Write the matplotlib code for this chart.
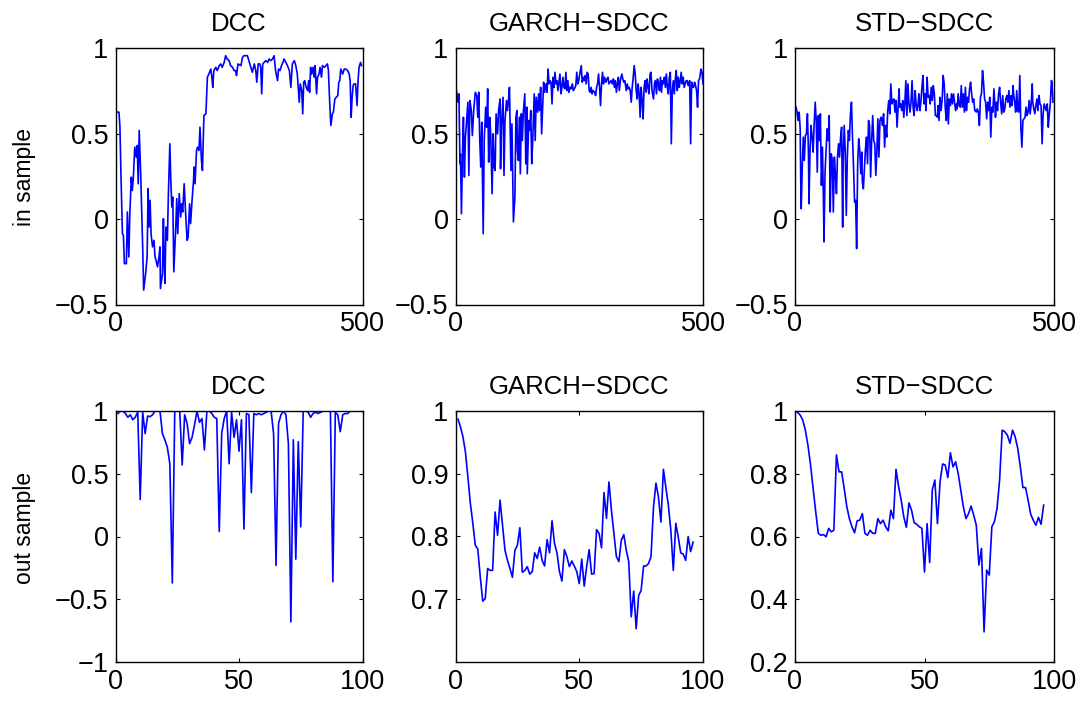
import matplotlib

matplotlib.use("Agg")
import matplotlib.pyplot as plt

plt.rcParams["font.family"] = ["Liberation Sans", "DejaVu Sans"]

# ---- in sample (500 obs) ----
dcc_in_x = [2, 7, 9, 11, 14, 16, 18, 22, 24, 27, 29, 32, 34, 36, 39, 42, 44, 46, 48, 51,
            53, 55, 57, 61, 64, 66, 68, 70, 72, 75, 78, 80, 82, 85, 88, 90, 91, 95, 97, 98,
            100, 102, 105, 107, 110, 112, 114, 116, 118, 122, 124, 126, 129, 132, 134, 136, 139, 142, 145, 147,
            150, 152, 155, 158, 159, 161, 164, 166, 169, 171, 174, 176, 179, 183, 186, 189, 193, 195, 197, 199,
            203, 206, 210, 213, 216, 220, 223, 226, 230, 233, 237, 240, 243, 245, 248, 254, 257, 260, 264, 267,
            270, 274, 277, 281, 284, 286, 289, 292, 294, 296, 298, 301, 304, 308, 311, 314, 318, 321, 324, 328,
            330, 333, 336, 339, 341, 345, 348, 352, 355, 358, 362, 365, 368, 372, 374, 377, 379, 381, 383, 386,
            389, 391, 393, 395, 397, 400, 402, 404, 407, 409, 412, 414, 417, 419, 423, 426, 429, 431, 434, 436,
            439, 441, 444, 447, 450, 452, 454, 456, 460, 463, 466, 470, 473, 475, 477, 479, 481, 483, 486, 489,
            491, 493, 496, 498]
dcc_in_y = [0.625, 0.625, 0.537, 0.265, -0.086, -0.095, -0.261, -0.261, 0.041, -0.222, 0.031, 0.245, 0.167, 0.235, 0.42, 0.362, 0.43, 0.206, 0.518, 0.265,
            0.051, -0.163, -0.416, -0.319, -0.222, 0.177, -0.047, 0.109, -0.086, -0.163, -0.125, -0.222, -0.241, -0.28, -0.222, -0.163, -0.407, -0.319, 0.002, -0.202,
            -0.377, -0.047, -0.125, 0.138, 0.44, 0.226, 0.07, 0.128, -0.309, -0.047, 0.119, -0.086, 0.148, 0.012, 0.089, 0.041, 0.206, 0.031, -0.125, -0.105,
            0.089, -0.027, 0.109, 0.226, 0.304, 0.206, 0.40, 0.42, 0.40, 0.537, 0.342, 0.284, 0.605, 0.615, 0.829, 0.848, 0.877, 0.829, 0.77, 0.868,
            0.887, 0.868, 0.897, 0.907, 0.887, 0.916, 0.955, 0.936, 0.926, 0.897, 0.887, 0.868, 0.868, 0.839, 0.907, 0.897, 0.945, 0.955, 0.955, 0.955,
            0.926, 0.887, 0.858, 0.907, 0.868, 0.80, 0.907, 0.907, 0.887, 0.732, 0.907, 0.916, 0.926, 0.916, 0.936, 0.926, 0.936, 0.955, 0.868, 0.809,
            0.877, 0.868, 0.897, 0.916, 0.936, 0.916, 0.897, 0.868, 0.77, 0.907, 0.926, 0.897, 0.848, 0.683, 0.79, 0.751, 0.615, 0.80, 0.809, 0.77,
            0.751, 0.809, 0.741, 0.887, 0.848, 0.887, 0.829, 0.897, 0.732, 0.829, 0.848, 0.887, 0.829, 0.897, 0.887, 0.897, 0.907, 0.868, 0.654, 0.547,
            0.615, 0.625, 0.702, 0.712, 0.722, 0.80, 0.809, 0.877, 0.848, 0.877, 0.877, 0.868, 0.848, 0.809, 0.595, 0.712, 0.78, 0.79, 0.79, 0.663,
            0.809, 0.887, 0.916, 0.897]

garch_in_x = [2, 5, 7, 9, 10, 12, 14, 16, 18, 20, 22, 25, 27, 29, 32, 34, 37, 40, 43, 45,
              47, 49, 51, 53, 56, 58, 61, 63, 65, 67, 69, 71, 74, 76, 78, 80, 82, 85, 87, 90,
              91, 93, 96, 98, 100, 103, 105, 107, 109, 112, 114, 117, 120, 122, 124, 125, 127, 129, 131, 133,
              135, 137, 140, 142, 144, 145, 148, 150, 152, 154, 156, 159, 161, 163, 166, 168, 170, 172, 174, 176,
              178, 180, 183, 185, 187, 189, 191, 193, 195, 197, 199, 201, 203, 205, 207, 209, 211, 213, 215, 217,
              219, 221, 223, 225, 227, 229, 231, 233, 236, 238, 240, 243, 245, 247, 249, 251, 254, 256, 258, 260,
              262, 264, 266, 268, 270, 272, 274, 276, 278, 281, 283, 285, 287, 289, 291, 293, 295, 297, 299, 301,
              304, 306, 308, 310, 312, 314, 317, 319, 321, 323, 325, 327, 329, 331, 333, 336, 338, 340, 342, 345,
              347, 349, 351, 353, 355, 357, 359, 361, 363, 365, 367, 369, 371, 373, 375, 377, 379, 381, 383, 385,
              387, 389, 391, 393, 395, 397, 400, 402, 404, 406, 408, 410, 412, 414, 416, 418, 420, 422, 424, 426,
              428, 430, 432, 434, 436, 438, 440, 442, 444, 446, 448, 450, 452, 454, 456, 458, 460, 462, 464, 466,
              468, 470, 473, 475, 477, 479, 481, 483, 485, 487, 489, 491, 493, 496, 498, 500]
garch_in_y = [0.751, 0.683, 0.732, 0.323, 0.381, 0.031, 0.362, 0.595, 0.245, 0.479, 0.556, 0.683, 0.255, 0.693, 0.634, 0.488, 0.644, 0.741, 0.722, 0.595,
              0.741, 0.459, 0.304, 0.566, -0.086, 0.459, 0.654, 0.537, 0.761, 0.333, 0.595, 0.508, 0.148, 0.498, 0.304, 0.284, 0.615, 0.498, 0.634, 0.702,
              0.294, 0.556, 0.712, 0.255, 0.576, 0.693, 0.634, 0.693, 0.77, 0.284, 0.556, -0.017, 0.128, 0.595, 0.634, 0.401, 0.342, 0.595, 0.265, 0.615,
              0.459, 0.625, 0.732, 0.323, 0.654, 0.265, 0.576, 0.518, 0.634, 0.323, 0.459, 0.732, 0.459, 0.712, 0.625, 0.732, 0.634, 0.77, 0.498, 0.654,
              0.80, 0.741, 0.79, 0.741, 0.877, 0.79, 0.809, 0.80, 0.673, 0.829, 0.77, 0.858, 0.79, 0.809, 0.751, 0.80, 0.848, 0.732, 0.77, 0.829,
              0.77, 0.761, 0.858, 0.751, 0.809, 0.741, 0.77, 0.761, 0.79, 0.751, 0.761, 0.78, 0.858, 0.79, 0.809, 0.848, 0.897, 0.80, 0.829, 0.809,
              0.839, 0.79, 0.858, 0.848, 0.751, 0.741, 0.77, 0.732, 0.751, 0.741, 0.722, 0.77, 0.79, 0.848, 0.77, 0.663, 0.79, 0.858, 0.79, 0.829,
              0.80, 0.819, 0.829, 0.79, 0.80, 0.809, 0.79, 0.819, 0.77, 0.809, 0.741, 0.79, 0.829, 0.751, 0.809, 0.848, 0.819, 0.80, 0.809, 0.751,
              0.79, 0.761, 0.77, 0.751, 0.683, 0.77, 0.829, 0.897, 0.848, 0.751, 0.702, 0.79, 0.732, 0.595, 0.77, 0.693, 0.585, 0.77, 0.809, 0.741,
              0.819, 0.77, 0.732, 0.848, 0.858, 0.751, 0.702, 0.79, 0.809, 0.732, 0.819, 0.79, 0.751, 0.829, 0.741, 0.809, 0.79, 0.829, 0.77, 0.848,
              0.77, 0.732, 0.829, 0.858, 0.44, 0.751, 0.809, 0.732, 0.819, 0.868, 0.751, 0.829, 0.77, 0.809, 0.858, 0.79, 0.829, 0.77, 0.79, 0.809,
              0.809, 0.78, 0.809, 0.44, 0.80, 0.77, 0.77, 0.80, 0.78, 0.751, 0.654, 0.809, 0.819, 0.877, 0.858, 0.79]

std_in_x = [2, 4, 6, 8, 10, 11, 12, 14, 16, 18, 20, 22, 24, 26, 27, 29, 31, 33, 35, 37,
            39, 41, 43, 45, 47, 49, 51, 53, 55, 56, 58, 60, 62, 64, 66, 68, 70, 72, 74, 76,
            78, 80, 82, 84, 86, 88, 90, 92, 93, 95, 97, 99, 101, 103, 105, 107, 109, 111, 113, 115,
            117, 119, 121, 123, 125, 127, 129, 130, 132, 134, 136, 138, 140, 142, 144, 146, 148, 150, 152, 154,
            156, 158, 160, 162, 164, 166, 167, 169, 171, 173, 175, 177, 179, 181, 183, 185, 187, 189, 191, 193,
            195, 197, 199, 201, 202, 204, 206, 208, 210, 212, 214, 216, 218, 220, 222, 224, 226, 228, 230, 232,
            234, 236, 238, 239, 241, 243, 245, 247, 249, 251, 253, 255, 257, 259, 261, 263, 265, 267, 269, 271,
            273, 275, 276, 278, 280, 282, 284, 286, 288, 290, 292, 294, 296, 298, 300, 302, 304, 306, 308, 310,
            312, 313, 315, 317, 319, 321, 323, 325, 327, 329, 331, 333, 335, 337, 339, 341, 343, 345, 347, 349,
            350, 352, 354, 356, 358, 360, 362, 364, 366, 368, 370, 372, 374, 376, 378, 380, 382, 384, 386, 387,
            389, 391, 393, 395, 397, 399, 401, 403, 405, 407, 409, 411, 413, 415, 417, 419, 421, 422, 424, 426,
            428, 430, 432, 434, 436, 438, 440, 442, 444, 446, 448, 450, 452, 454, 456, 458, 459, 461, 463, 465,
            467, 469, 471, 473, 475, 477, 479, 481, 483, 485, 487, 489, 491, 493, 495, 496, 498]
std_in_y = [0.654, 0.625, 0.576, 0.625, 0.527, 0.245, 0.06, 0.304, 0.479, 0.342, 0.488, 0.498, 0.615, 0.381, 0.089, 0.401, 0.547, 0.479, 0.391, 0.556,
            0.683, 0.576, 0.274, 0.605, 0.459, 0.615, 0.197, 0.42, 0.089, -0.134, 0.274, 0.401, 0.527, 0.459, 0.605, 0.041, 0.381, 0.342, 0.041, 0.362,
            0.265, 0.148, 0.362, 0.44, 0.362, 0.479, 0.537, -0.047, 0.342, 0.547, 0.401, 0.021, 0.362, 0.518, 0.459, 0.615, 0.683, 0.479, 0.304, 0.099,
            0.109, -0.173, 0.323, 0.469, 0.401, 0.265, 0.391, 0.216, 0.177, 0.294, 0.41, 0.479, 0.323, 0.576, 0.547, 0.245, 0.459, 0.605, 0.459, 0.44,
            0.255, 0.391, 0.586, 0.362, 0.576, 0.595, 0.586, 0.547, 0.615, 0.42, 0.547, 0.479, 0.634, 0.693, 0.615, 0.79, 0.673, 0.693, 0.702, 0.625,
            0.693, 0.537, 0.644, 0.761, 0.654, 0.673, 0.634, 0.693, 0.595, 0.673, 0.809, 0.605, 0.79, 0.673, 0.625, 0.683, 0.809, 0.654, 0.605, 0.751,
            0.663, 0.634, 0.683, 0.732, 0.634, 0.683, 0.77, 0.839, 0.673, 0.732, 0.634, 0.829, 0.712, 0.722, 0.673, 0.77, 0.693, 0.78, 0.732, 0.605,
            0.605, 0.595, 0.663, 0.576, 0.712, 0.634, 0.693, 0.839, 0.79, 0.654, 0.576, 0.732, 0.556, 0.702, 0.663, 0.732, 0.673, 0.732, 0.683, 0.634,
            0.673, 0.644, 0.732, 0.663, 0.654, 0.78, 0.654, 0.732, 0.625, 0.77, 0.634, 0.712, 0.683, 0.761, 0.80, 0.732, 0.683, 0.702, 0.634, 0.634,
            0.625, 0.644, 0.625, 0.547, 0.712, 0.732, 0.868, 0.80, 0.702, 0.683, 0.586, 0.683, 0.634, 0.712, 0.479, 0.654, 0.625, 0.761, 0.663, 0.595,
            0.683, 0.634, 0.732, 0.77, 0.683, 0.615, 0.722, 0.625, 0.644, 0.702, 0.722, 0.683, 0.751, 0.654, 0.722, 0.663, 0.78, 0.732, 0.683, 0.625,
            0.751, 0.634, 0.625, 0.839, 0.537, 0.42, 0.576, 0.586, 0.595, 0.654, 0.605, 0.625, 0.693, 0.615, 0.673, 0.79, 0.683, 0.644, 0.615, 0.663,
            0.702, 0.634, 0.722, 0.673, 0.663, 0.44, 0.615, 0.673, 0.654, 0.634, 0.673, 0.537, 0.615, 0.683, 0.81, 0.80, 0.683]

# ---- out of sample (96 obs, t = 1..96) ----
dcc_out = [0.98, 1.0, 1.0, 0.98, 0.95, 0.97, 0.93, 0.95, 0.99, 0.295,
           0.99, 0.82, 0.96, 0.955, 0.97, 1.0, 1.0, 1.0, 0.82, 0.77,
           0.71, 0.58, -0.37, 1.0, 1.0, 1.0, 0.57, 0.97, 0.90, 0.74,
           0.79, 0.89, 1.0, 0.91, 0.94, 0.69, 1.0, 1.0, 0.98, 0.95,
           0.94, 0.04, 0.82, 0.94, 1.0, 0.58, 0.99, 0.79, 0.93, 0.68,
           0.93, 0.06, 0.98, 0.97, 0.35, 0.98, 0.97, 0.98, 0.97, 0.98,
           0.99, 1.0, 1.0, 0.82, -0.23, 0.90, 0.97, 1.0, 0.97, 0.74,
           -0.68, 0.77, -0.18, 0.755, 0.077, 1.0, 1.0, 0.99, 0.95, 0.98,
           0.99, 0.98, 0.99, 1.0, 1.0, 1.0, 1.0, -0.36, 0.99, 0.97,
           0.835, 0.97, 0.98, 0.98, 1.0, 1.0]
garch_out = [0.987, 0.975, 0.959, 0.935, 0.895, 0.853, 0.821, 0.786, 0.78, 0.736,
             0.697, 0.701, 0.749, 0.746, 0.746, 0.839, 0.802, 0.858, 0.818, 0.778,
             0.762, 0.749, 0.735, 0.778, 0.786, 0.814, 0.743, 0.746, 0.752, 0.74,
             0.744, 0.774, 0.765, 0.783, 0.762, 0.753, 0.795, 0.774, 0.825, 0.789,
             0.774, 0.744, 0.729, 0.779, 0.768, 0.752, 0.761, 0.753, 0.744, 0.725,
             0.764, 0.721, 0.752, 0.779, 0.74, 0.741, 0.811, 0.805, 0.782, 0.87,
             0.829, 0.887, 0.842, 0.805, 0.768, 0.76, 0.794, 0.803, 0.778, 0.76,
             0.672, 0.713, 0.653, 0.706, 0.714, 0.753, 0.753, 0.757, 0.768, 0.847,
             0.885, 0.863, 0.823, 0.907, 0.878, 0.85, 0.81, 0.746, 0.821, 0.799,
             0.774, 0.772, 0.762, 0.8, 0.776, 0.791]
std_out = [0.995, 0.987, 0.971, 0.939, 0.891, 0.828, 0.753, 0.679, 0.61, 0.604,
           0.606, 0.599, 0.626, 0.615, 0.62, 0.86, 0.806, 0.806, 0.753, 0.695,
           0.657, 0.631, 0.612, 0.65, 0.652, 0.673, 0.61, 0.604, 0.62, 0.61,
           0.61, 0.657, 0.641, 0.652, 0.631, 0.618, 0.684, 0.657, 0.814, 0.759,
           0.716, 0.663, 0.629, 0.707, 0.684, 0.644, 0.639, 0.631, 0.626, 0.487,
           0.641, 0.517, 0.748, 0.78, 0.641, 0.774, 0.831, 0.828, 0.788, 0.867,
           0.822, 0.838, 0.801, 0.748, 0.695, 0.657, 0.673, 0.697, 0.668, 0.636,
           0.509, 0.562, 0.296, 0.493, 0.477, 0.631, 0.647, 0.689, 0.78, 0.939,
           0.934, 0.923, 0.897, 0.939, 0.918, 0.881, 0.822, 0.756, 0.756, 0.716,
           0.671, 0.652, 0.636, 0.661, 0.639, 0.7]

titles = ["DCC", "GARCH\u2212SDCC", "STD\u2212SDCC"]
row_labels = ["in sample", "out sample"]

in_yticks = [-0.5, 0, 0.5, 1]
in_yticklabels = ["\u22120.5", "0", "0.5", "1"]
in_xticks = [0, 500]
out_xticks = [0, 50, 100]
out_yticks = [
    [-1, -0.5, 0, 0.5, 1],
    [0.7, 0.8, 0.9, 1],
    [0.2, 0.4, 0.6, 0.8, 1],
]
out_yticklabels = [
    ["\u22121", "\u22120.5", "0", "0.5", "1"],
    ["0.7", "0.8", "0.9", "1"],
    ["0.2", "0.4", "0.6", "0.8", "1"],
]
out_ylims = [(-1, 1), (0.6, 1), (0.2, 1)]

W, H = 1085, 702
fig = plt.figure(figsize=(W / 100, H / 100), dpi=100)

# axes boxes in pixels: (left, right)
cols = [(115.5, 362.5), (455.5, 703), (795, 1054)]
rows = [(48, 304.5), (411, 662)]


def make_ax(c, r):
    l, rr = cols[c]
    t, b = rows[r]
    ax = fig.add_axes([l / W, 1 - b / H, (rr - l) / W, (b - t) / H])
    ax.tick_params(direction="in", top=True, right=True, length=3, width=0.8,
                   labelsize=19.5, pad=5)
    for s in ax.spines.values():
        s.set_linewidth(1.0)
    return ax


in_series = [(dcc_in_x, dcc_in_y), (garch_in_x, garch_in_y), (std_in_x, std_in_y)]
out_series = [dcc_out, garch_out, std_out]

for c in range(3):
    ax = make_ax(c, 0)
    xs, ys = in_series[c]
    ax.plot(xs, ys, color="#0000ff", lw=1.2)
    ax.set_xlim(0, 500)
    ax.set_ylim(-0.5, 1)
    ax.set_xticks(in_xticks)
    ax.set_xticklabels([str(v) for v in in_xticks])
    ax.set_yticks(in_yticks)
    ax.set_yticklabels(in_yticklabels)
    ax.set_title(titles[c], fontsize=18.5, pad=12)

    ax = make_ax(c, 1)
    t = list(range(1, len(out_series[c]) + 1))
    ax.plot(t, out_series[c], color="#0000ff", lw=1.2)
    ax.set_xlim(0, 100)
    ax.set_ylim(*out_ylims[c])
    ax.set_xticks(out_xticks)
    ax.set_xticklabels([str(v) for v in out_xticks])
    ax.set_yticks(out_yticks[c])
    ax.set_yticklabels(out_yticklabels[c])
    ax.set_title(titles[c], fontsize=18.5, pad=12)

fig.text(24 / W, 1 - 177 / H, row_labels[0], rotation=90, ha="center", va="center", fontsize=16.5)
fig.text(24 / W, 1 - 528 / H, row_labels[1], rotation=90, ha="center", va="center", fontsize=16.5)

fig.savefig("out.png", dpi=100)
